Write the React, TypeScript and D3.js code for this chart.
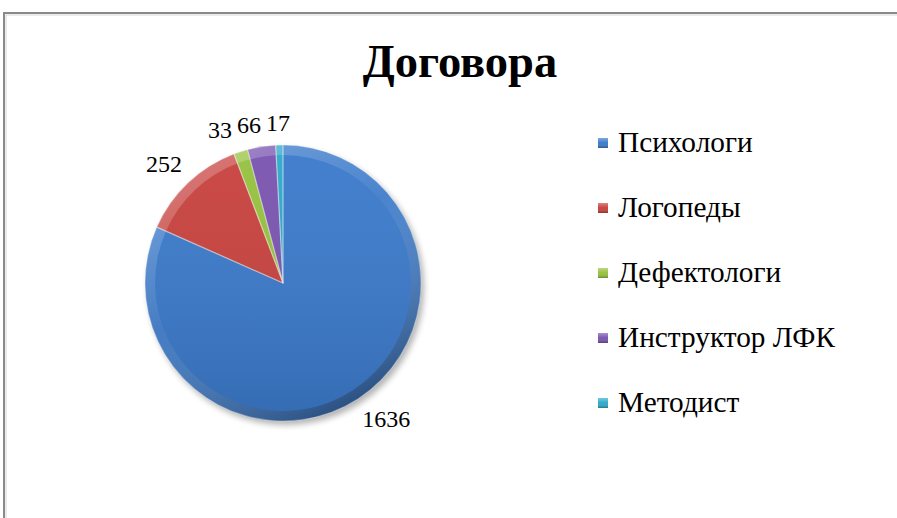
import React from "react";
import * as d3 from "d3";

const title = "Договора";
const categories = ["Психологи", "Логопеды", "Дефектологи", "Инструктор ЛФК", "Методист"];
const values = [1636, 252, 33, 66, 17];
const colors = ["#3b7acb", "#c8423e", "#96c23f", "#7a55b0", "#2fa9ca"];

const W = 897;
const H = 518;
const cx = 283;
const cy = 283;
const R = 138;
const FONT = "'Liberation Serif'";

type Datum = { name: string; value: number; color: string };
const data: Datum[] = categories.map((c, i) => ({ name: c, value: values[i], color: colors[i] }));

export default function App() {
  const pie = d3.pie<Datum>().sort(null).value((d) => d.value);
  const arcs = pie(data);
  const arcGen = d3.arc<d3.PieArcDatum<Datum>>().innerRadius(0).outerRadius(R);
  const bevelGen = d3.arc<d3.PieArcDatum<Datum>>().innerRadius(R - 10).outerRadius(R);

  const labelFont = 24;
  const gap = 11;
  const labels = arcs.map((a) => {
    const mid = (a.startAngle + a.endAngle) / 2;
    const dx = Math.sin(mid);
    const dy = -Math.cos(mid);
    const txt = String(a.data.value);
    const w = txt.length * labelFont * 0.46;
    const h = labelFont * 0.9;
    const px = cx + (R + gap) * dx;
    const py = cy + (R + gap) * dy;
    const sx = Math.max(-1, Math.min(1, dx / 0.3));
    const sy = Math.max(-1, Math.min(1, dy / 0.3));
    return { txt, w, h, x: px + sx * (w / 2), y: py + sy * (h / 2) };
  });

  // resolve horizontal overlaps: push labels leftwards, from right to left
  const order = labels.map((_, i) => i).sort((a, b) => labels[b].x - labels[a].x);
  const minGap = 7;
  for (let k = 1; k < order.length; k++) {
    const cur = labels[order[k]];
    for (let j = 0; j < k; j++) {
      const other = labels[order[j]];
      if (Math.abs(cur.y - other.y) < (cur.h + other.h) / 2) {
        const maxRight = other.x - other.w / 2 - minGap;
        if (cur.x + cur.w / 2 > maxRight) cur.x = maxRight - cur.w / 2;
      }
    }
  }

  const legendY = d3.scaleLinear().domain([0, 1]).range([143, 208]);
  const textStyle: React.CSSProperties = { fontFamily: FONT };

  return (
    <svg width={W} height={H} style={{ position: "absolute", left: 0, top: 0, background: "#fff" }}>
      <defs>
        <linearGradient id="ringGrad" gradientUnits="userSpaceOnUse" x1={-R * 0.7} y1={-R} x2={R * 0.5} y2={R}>
          <stop offset="0" stopColor="#ffffff" stopOpacity={0.28} />
          <stop offset="0.45" stopColor="#ffffff" stopOpacity={0.04} />
          <stop offset="1" stopColor="#000000" stopOpacity={0.35} />
        </linearGradient>
        <linearGradient id="bodyGrad" gradientUnits="userSpaceOnUse" x1={0} y1={-R} x2={0} y2={R}>
          <stop offset="0" stopColor="#ffffff" stopOpacity={0.04} />
          <stop offset="1" stopColor="#000000" stopOpacity={0.12} />
        </linearGradient>
        <filter id="shadow" x="-20%" y="-20%" width="140%" height="140%">
          <feGaussianBlur stdDeviation="3" />
        </filter>
        <linearGradient id="mkGrad" x1="0" y1="0" x2="0" y2="1">
          <stop offset="0" stopColor="#ffffff" stopOpacity={0.35} />
          <stop offset="0.5" stopColor="#ffffff" stopOpacity={0} />
          <stop offset="1" stopColor="#000000" stopOpacity={0.3} />
        </linearGradient>
      </defs>

      {/* chart frame */}
      <rect x={4} y={13} width={W + 20} height={H + 20} fill="none" stroke="#8a8a8a" strokeWidth={2} />
      <rect x={6} y={15} width={W + 20} height={H + 20} fill="none" stroke="#d8d8d8" strokeWidth={1} />

      <text x={460} y={77} textAnchor="middle" style={textStyle} fontSize={46.5} fontWeight="bold" fill="#000">
        {title}
      </text>

      {/* shadow */}
      <circle cx={cx + 3} cy={cy + 4} r={R} fill="#000" opacity={0.3} filter="url(#shadow)" />

      <g transform={`translate(${cx},${cy})`}>
        {arcs.map((a, i) => (
          <path key={"s" + i} d={arcGen(a) || ""} fill={a.data.color} />
        ))}
        {arcs.map((a, i) => (
          <path key={"g" + i} d={arcGen(a) || ""} fill="url(#bodyGrad)" />
        ))}
        {arcs.map((a, i) => (
          <path key={"b" + i} d={bevelGen(a) || ""} fill="url(#ringGrad)" />
        ))}
        {arcs.map((a, i) => (
          <path
            key={"e" + i}
            d={arcGen(a) || ""}
            fill="none"
            stroke="#ffffff"
            strokeOpacity={0.3}
            strokeWidth={1.2}
            strokeLinejoin="round"
          />
        ))}
      </g>

      {labels.map((l, i) => (
        <text
          key={"l" + i}
          x={l.x}
          y={l.y}
          textAnchor="middle"
          dominantBaseline="central"
          style={textStyle}
          fontSize={labelFont}
          fill="#000"
        >
          {l.txt}
        </text>
      ))}

      {data.map((d, i) => {
        const y = legendY(i);
        return (
          <g key={"lg" + i}>
            <rect x={598} y={y - 5} width={10} height={10} fill={d.color} />
            <rect x={598} y={y - 5} width={10} height={10} fill="url(#mkGrad)" />
            <text x={618} y={y + 9} style={textStyle} fontSize={29.3} fill="#000">
              {d.name}
            </text>
          </g>
        );
      })}
    </svg>
  );
}
